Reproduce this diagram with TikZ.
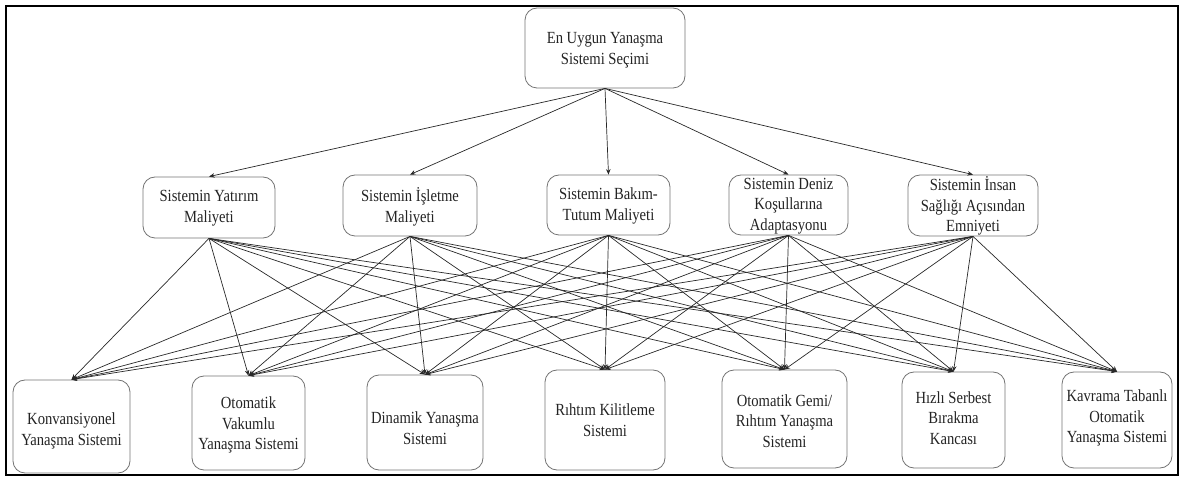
\documentclass[tikz,border=0pt]{standalone}
\usepackage{fontspec}
\setmainfont{Liberation Serif}[FakeStretch=0.86]
\usetikzlibrary{arrows.meta}
\definecolor{boxgray}{RGB}{115,115,115}
\definecolor{linegray}{RGB}{40,40,40}
\definecolor{txtgray}{RGB}{35,35,35}
\begin{document}
\begin{tikzpicture}[x=1pt,y=-1pt,
  box/.style={draw=boxgray, line width=0.8pt, rounded corners=12pt, inner sep=0pt},
  lbl/.style={align=center, font=\fontsize{17}{20.5}\selectfont, text=txtgray, inner sep=0pt},
  con/.style={draw=linegray, line width=0.7pt, -{Stealth[length=5.5pt,width=4.5pt]}}]
\useasboundingbox (0,0) rectangle (1187,478);
\draw[line width=2pt] (6,6) rectangle (1178,475);
% top
\node[box, minimum width=160pt, minimum height=80pt] (T) at (605,48) {};
\node[lbl] (Tt) at (605,50) {En Uygun Yanaşma\\Sistemi Seçimi};
% middle row
\node[box, minimum width=132pt, minimum height=61pt] (M1) at (209,207.5) {};
\node[box, minimum width=134pt, minimum height=61pt] (M2) at (410,205.5) {};
\node[box, minimum width=123pt, minimum height=60pt] (M3) at (608.5,205) {};
\node[box, minimum width=119pt, minimum height=60pt] (M4) at (788.5,205) {};
\node[box, minimum width=130pt, minimum height=61pt] (M5) at (973,205.5) {};
\node[lbl] (M1t) at (209,208) {Sistemin Yatırım\\Maliyeti};
\node[lbl] (M2t) at (410,207) {Sistemin İşletme\\Maliyeti};
\node[lbl] (M3t) at (608.5,206) {Sistemin Bakım-\\Tutum Maliyeti};
\node[lbl] (M4t) at (788.5,206) {Sistemin Deniz\\Koşullarına\\Adaptasyonu};
\node[lbl] (M5t) at (973,206) {Sistemin İnsan\\Sağlığı Açısından\\Emniyeti};
% bottom row
\node[box, minimum width=117pt, minimum height=93pt] (B1) at (71.5,426.5) {};
\node[box, minimum width=113pt, minimum height=94pt] (B2) at (248.5,423) {};
\node[box, minimum width=116pt, minimum height=95pt] (B3) at (425,422.5) {};
\node[box, minimum width=120pt, minimum height=100pt] (B4) at (605,420) {};
\node[box, minimum width=125pt, minimum height=98pt] (B5) at (784.5,419) {};
\node[box, minimum width=103pt, minimum height=96pt] (B6) at (953.5,420) {};
\node[box, minimum width=110pt, minimum height=96pt] (B7) at (1117,420) {};
\node[lbl] (B1t) at (71.5,431) {Konvansiyonel\\Yanaşma Sistemi};
\node[lbl] (B2t) at (248.5,425) {Otomatik\\Vakumlu\\Yanaşma Sistemi};
\node[lbl] (B3t) at (425,428) {Dinamik Yanaşma\\Sistemi};
\node[lbl] (B4t) at (605,420) {Rıhtım Kilitleme\\Sistemi};
\node[lbl] (B5t) at (784.5,421) {Otomatik Gemi/\\Rıhtım Yanaşma\\Sistemi};
\node[lbl] (B6t) at (953.5,418) {Hızlı Serbest\\Bırakma\\Kancası};
\node[lbl] (B7t) at (1117,418) {Kavrama Tabanlı\\Otomatik\\Yanaşma Sistemi};
% connectors
\foreach \m in {M1,M2,M3,M4,M5} \draw[con] (T.south) -- (\m.north);
\foreach \m in {M1,M2,M3,M4,M5} {
  \foreach \b in {B1,B2,B3,B4,B5,B6,B7} \draw[con] (\m.south) -- (\b.north);
}
\end{tikzpicture}
\end{document}
